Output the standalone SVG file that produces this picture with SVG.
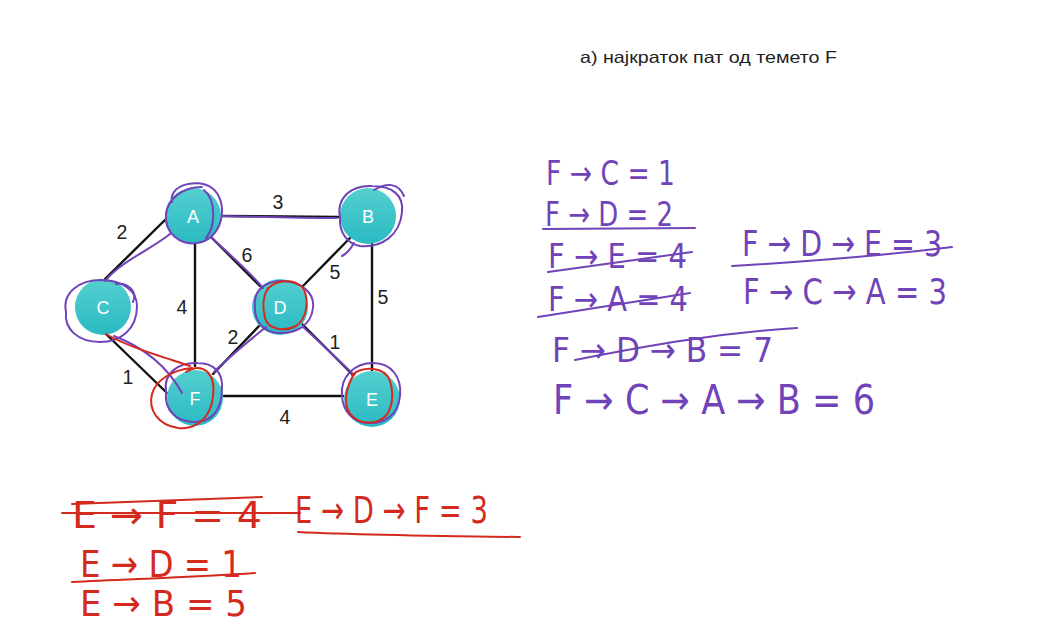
<svg xmlns="http://www.w3.org/2000/svg" width="1057" height="638" viewBox="0 0 1057 638">
<defs>
<linearGradient id="teal" x1="0" y1="0" x2="0" y2="1">
<stop offset="0" stop-color="#55cfcf"/>
<stop offset="1" stop-color="#29bac3"/>
</linearGradient>
<style>
.edge{stroke:#111;stroke-width:2.4;fill:none;stroke-linecap:round}
.node{fill:url(#teal)}
.nl{font-family:"Liberation Sans",Arial,sans-serif;font-size:18px;fill:#fff;text-anchor:middle}
.el{font-family:"Liberation Sans",Arial,sans-serif;font-size:19.5px;fill:#222;text-anchor:middle}
.title{font-family:"Liberation Sans",Arial,sans-serif;font-size:16.5px;fill:#222}
.pu{stroke:#7043b8;stroke-width:2;fill:none;stroke-linecap:round;stroke-linejoin:round}
.rd{stroke:#d42a1e;stroke-width:2;fill:none;stroke-linecap:round;stroke-linejoin:round}
.hp{font-family:"DejaVu Sans","Liberation Sans",sans-serif;fill:#7043b8}
.hr{font-family:"DejaVu Sans","Liberation Sans",sans-serif;fill:#d42a1e}
</style>
</defs>
<rect width="1057" height="638" fill="#fff"/>
<text class="title" x="580" y="63" textLength="257" lengthAdjust="spacingAndGlyphs">а) најкраток пат од темето F</text>

<g id="connectors">
<line class="edge" x1="222" y1="216" x2="338" y2="217"/>
<line class="edge" x1="167" y1="218" x2="105" y2="279"/>
<line class="edge" x1="195" y1="244" x2="195" y2="366"/>
<line class="edge" x1="212" y1="238" x2="261" y2="287"/>
<line class="edge" x1="350" y1="238" x2="302" y2="287"/>
<line class="edge" x1="372" y1="244" x2="372" y2="370"/>
<line class="edge" x1="105" y1="333" x2="167" y2="393"/>
<line class="edge" x1="260" y1="325" x2="213" y2="374"/>
<line class="edge" x1="302" y1="324" x2="353" y2="375"/>
<line class="edge" x1="224" y1="396" x2="343" y2="396"/>
<g id="edge-labels">
<text class="el" x="278" y="209">3</text>
<text class="el" x="122" y="239">2</text>
<text class="el" x="247" y="262">6</text>
<text class="el" x="335" y="279">5</text>
<text class="el" x="383" y="304">5</text>
<text class="el" x="182" y="314">4</text>
<text class="el" x="233" y="344">2</text>
<text class="el" x="335" y="349">1</text>
<text class="el" x="128" y="384">1</text>
<text class="el" x="285" y="424">4</text>
</g>
</g>

<g id="node-A"><circle class="node" cx="193" cy="216" r="28"/><text class="nl" x="193" y="223">A</text></g>
<g id="node-B"><circle class="node" cx="368" cy="216" r="28"/><text class="nl" x="368" y="223">B</text></g>
<g id="node-C"><circle class="node" cx="103" cy="307" r="28"/><text class="nl" x="103" y="314">C</text></g>
<g id="node-D"><circle class="node" cx="280" cy="307" r="28"/><text class="nl" x="280" y="314">D</text></g>
<g id="node-E"><circle class="node" cx="372" cy="399" r="28"/><text class="nl" x="372" y="406">E</text></g>
<g id="node-F"><circle class="node" cx="195" cy="398" r="28"/><text class="nl" x="195" y="405">F</text></g>

<g id="purple-marks">
<path class="pu" d="M172,202 C168,186 196,177 212,188 C228,200 225,234 202,242 C180,248 164,232 166,214 C168,199 182,187 202,187"/>
<path class="pu" d="M204,190 C216,200 216,226 206,238"/>
<path class="pu" d="M222,216 C260,217 300,218 337,218"/>
<path class="pu" d="M340,218 C336,197 352,185 372,186 C392,186 404,195 402,212 C400,235 382,248 360,246 C348,244 339,233 340,218"/>
<path class="pu" d="M374,190 C386,183 398,182 404,196"/>
<path class="pu" d="M354,243 C350,250 346,254 342,256"/>
<path class="pu" d="M66,312 C62,292 80,280 101,280 C121,280 137,290 137,306 C137,330 120,342 100,342 C78,342 64,329 66,312"/>
<path class="pu" d="M116,284 C128,282 138,292 133,302"/>
<path class="pu" d="M105,281 C120,262 150,250 170,234"/>
<path class="pu" d="M212,238 C230,255 248,270 263,288"/>
<path class="pu" d="M255,306 C253,289 268,280 283,281 C300,282 315,292 313,308 C311,326 295,334 278,333 C263,332 254,320 255,306"/>
<path class="pu" d="M214,372 C230,356 250,340 266,327"/>
<path class="pu" d="M303,327 C320,342 336,358 352,373"/>
<path class="pu" d="M342,396 C340,376 355,363 373,363 C392,363 402,378 400,396 C398,415 385,424 368,423 C351,422 343,410 342,396"/>
<path class="pu" d="M166,392 C163,372 180,362 198,363 C213,363 223,372 222,388 C222,410 212,422 195,422 C178,422 164,412 166,392"/>
<path class="pu" d="M114,336 C140,346 165,362 182,393"/>
</g>

<g id="red-marks">
<path class="rd" d="M266,292 C272,280 292,278 301,286 C310,296 308,318 296,326 C285,332 268,330 265,318 C262,306 263,296 268,288"/>
<path class="rd" d="M352,375 C363,366 385,366 390,381 C395,398 392,418 375,422 C358,425 345,415 346,398 C347,386 351,378 356,372"/>
<path class="rd" d="M186,372 C202,362 216,372 213,396 C211,418 196,430 178,428 C158,425 148,410 152,394 C156,380 172,370 192,368"/>
<path class="rd" d="M106,334 C126,346 160,356 190,366"/>
</g>

<g id="purple-notes">
<text class="hp" font-size="34" x="546" y="185" textLength="129" lengthAdjust="spacingAndGlyphs">F → C = 1</text>
<text class="hp" font-size="34" x="545" y="226" textLength="128" lengthAdjust="spacingAndGlyphs">F → D = 2</text>
<path class="pu" d="M543,229 L695,228"/>
<text class="hp" font-size="34" x="548" y="268" textLength="139" lengthAdjust="spacingAndGlyphs">F → E = 4</text>
<path class="pu" d="M548,272 L692,252"/>
<text class="hp" font-size="34" x="548" y="311" textLength="140" lengthAdjust="spacingAndGlyphs">F → A = 4</text>
<path class="pu" d="M538,317 L690,293"/>
<text class="hp" font-size="36" x="742" y="256" textLength="200" lengthAdjust="spacingAndGlyphs">F → D → E = 3</text>
<path class="pu" d="M732,266 C800,262 880,256 952,247"/>
<text class="hp" font-size="36" x="743" y="304" textLength="204" lengthAdjust="spacingAndGlyphs">F → C → A = 3</text>
<text class="hp" font-size="34" x="552" y="362" textLength="221" lengthAdjust="spacingAndGlyphs">F → D → B = 7</text>
<path class="pu" d="M575,360 C650,345 720,333 797,328"/>
<text class="hp" font-size="40" x="553" y="414" textLength="322" lengthAdjust="spacingAndGlyphs">F → C → A → B = 6</text>
</g>

<g id="red-notes">
<text class="hr" font-size="38" x="72" y="528" textLength="190" lengthAdjust="spacingAndGlyphs">E → F = 4</text>
<path class="rd" d="M72,504 L262,497"/>
<path class="rd" d="M62,513 L300,513"/>
<text class="hr" font-size="38" x="295" y="523" textLength="193" lengthAdjust="spacingAndGlyphs">E → D → F = 3</text>
<path class="rd" d="M298,532 C360,535 430,536 520,537"/>
<text class="hr" font-size="38" x="80" y="577" textLength="162" lengthAdjust="spacingAndGlyphs">E → D = 1</text>
<path class="rd" d="M72,582 C130,579 200,577 255,573"/>
<text class="hr" font-size="36" x="80" y="616" textLength="167" lengthAdjust="spacingAndGlyphs">E → B = 5</text>
</g>
</svg>
